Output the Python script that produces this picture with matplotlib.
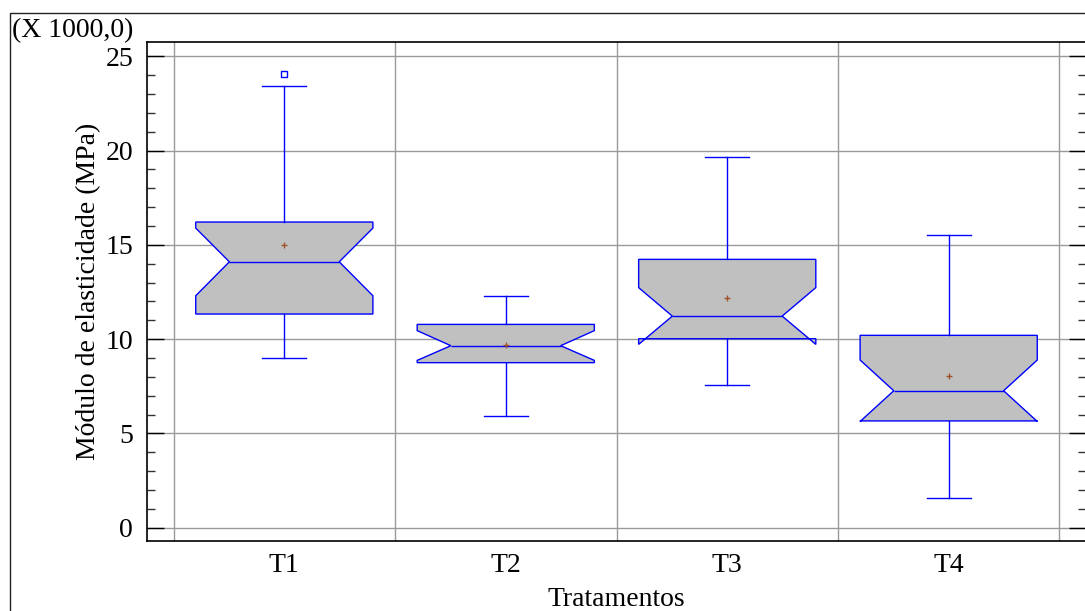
import numpy as np
import matplotlib
matplotlib.use('Agg')
import matplotlib.pyplot as plt
from matplotlib.patches import Rectangle
from matplotlib.ticker import MultipleLocator, FixedLocator

plt.rcParams['font.family'] = ['Liberation Serif', 'DejaVu Serif']

# values (units of 1000 MPa)
labels = ['T1', 'T2', 'T3', 'T4']
q1 = [11.33, 8.75, 10.02, 5.66]
med = [14.10, 9.65, 11.22, 7.26]
q3 = [16.21, 10.78, 14.23, 10.20]
whislo = [9.00, 5.91, 7.57, 1.56]
whishi = [23.42, 12.27, 19.65, 15.54]
cilo = [12.30, 8.87, 9.72, 5.63]
cihi = [15.89, 10.45, 12.73, 8.89]
means = [15.00, 9.68, 12.18, 8.06]
fliers = [[24.05], [], [], []]

stats = []
for i, lab in enumerate(labels):
    stats.append(dict(label=lab, q1=q1[i], med=med[i], q3=q3[i],
                      whislo=whislo[i], whishi=whishi[i], cilo=cilo[i],
                      cihi=cihi[i], mean=means[i], fliers=fliers[i]))

blue = '#0000ff'
fig = plt.figure(figsize=(10.85, 6.11), dpi=100)
ax = fig.add_axes([147/1085, 1 - 541/611, 939/1085, 499/611])

pos = np.arange(1, len(labels) + 1)
w = 0.8
bp = ax.bxp(stats, positions=pos, widths=w, capwidths=0.2, shownotches=True,
            showmeans=True, patch_artist=True,
            boxprops=dict(facecolor='#c0c0c0', edgecolor=blue, linewidth=1.0),
            whiskerprops=dict(color=blue, linewidth=1.0),
            capprops=dict(color=blue, linewidth=1.0),
            medianprops=dict(color=blue, linewidth=1.0),
            meanprops=dict(marker='+', markeredgecolor='#a0522d',
                           markersize=5, markeredgewidth=1.0),
            flierprops=dict(marker='s', markerfacecolor='none',
                            markeredgecolor=blue, markersize=4,
                            markeredgewidth=1.0))

# narrower notch waist like the original
k = 0.31
for p, box, ml in zip(pos, bp['boxes'], bp['medians']):
    v = box.get_path().vertices
    v[3, 0] = p + k * w
    v[8, 0] = p - k * w
    ml.set_xdata([p - k * w, p + k * w])

ax.set_xlim(0.38, 4.62)
ax.set_ylim(-0.71, 25.76)
ax.set_xticks(pos)
ax.set_xticklabels(labels)
ax.xaxis.set_minor_locator(FixedLocator(np.arange(0.5, 5, 1)))
ax.yaxis.set_major_locator(MultipleLocator(5))
ax.yaxis.set_minor_locator(MultipleLocator(1))

ax.set_axisbelow(True)
ax.grid(axis='y', which='major', color='#9a9a9a', linewidth=1.0)
ax.grid(axis='x', which='minor', color='#9a9a9a', linewidth=1.0)

ax.tick_params(axis='x', which='both', length=0, labelsize=20, pad=9)
ax.tick_params(axis='y', which='both', direction='in', left=True, right=True,
               labelsize=20, pad=10)
ax.tick_params(axis='y', which='major', length=12, width=1)
ax.tick_params(axis='y', which='minor', length=6, width=1, color='#333333')

for s in ax.spines.values():
    s.set_linewidth(1.2)

ax.set_ylabel('Módulo de elasticidade (MPa)', fontsize=20)
ax.yaxis.set_label_coords(-0.049, 0.5)
ax.set_xlabel('Tratamentos', fontsize=20)
ax.xaxis.set_label_coords(0.5, -0.092)

fig.text(12/1085, 1 - 37/611, '(X 1000,0)', fontsize=20, va='baseline')

# outer frame of the original window
fig.patches.append(Rectangle((10/1085, -0.1), 1.2, 1.1 - 13/611,
                             transform=fig.transFigure, fill=False,
                             edgecolor='#222222', linewidth=1.0))

plt.savefig('out.png', dpi=100)
